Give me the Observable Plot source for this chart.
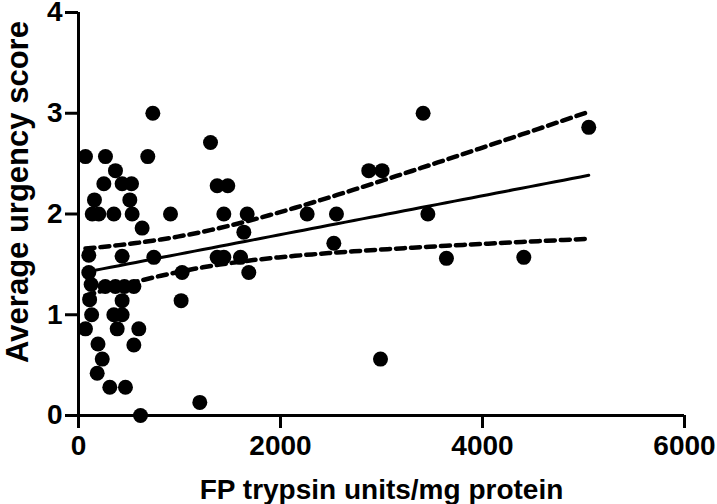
<!DOCTYPE html>
<html><head><meta charset="utf-8">
<script src="https://cdn.jsdelivr.net/npm/d3@7"></script>
<script src="https://cdn.jsdelivr.net/npm/@observablehq/plot@0.6"></script>
<style>
body{margin:0;background:#fff}
svg{font-family:"Liberation Sans",Arial,sans-serif;overflow:visible}
</style>
</head><body><div id="chart"></div>
<script>
// FP trypsin units/mg protein (x) and average urgency score (y)
const trypsin = [69, 69, 136, 158, 102, 102, 125, 110, 130,
  201, 251, 193, 235, 185, 267, 265,
  310, 366, 350, 365, 350, 383,
  432, 432, 455, 432, 432, 465,
  525, 508, 531, 548, 548,
  630, 597, 614,
  686, 736, 746, 911, 1026, 1016, 1201,
  1307, 1373, 1478, 1439, 1373, 1439, 1604, 1670, 1637, 1686,
  2264, 2554, 2528, 2874, 3006, 2990, 3412, 3459, 3643, 4409, 5052];
const urgency = [2.57, 0.86, 2.0, 2.14, 1.59, 1.42, 1.30, 1.15, 1.0,
  2.0, 2.30, 0.71, 0.56, 0.42, 2.57, 1.28,
  0.28, 2.43, 2.0, 1.28, 1.0, 0.86,
  2.30, 1.58, 1.28, 1.14, 1.0, 0.28,
  2.30, 2.14, 2.0, 1.28, 0.70,
  1.86, 0.86, 0.0,
  2.57, 3.0, 1.57, 2.0, 1.42, 1.14, 0.13,
  2.71, 2.28, 2.28, 2.0, 1.57, 1.57, 1.57, 2.0, 1.82, 1.42,
  2.0, 2.0, 1.71, 2.43, 2.43, 0.56, 3.0, 2.0, 1.56, 1.57, 2.86];
const xTicks = [0, 2000, 4000, 6000];
const yTicks = [0, 1, 2, 3, 4];
const xLabel = "FP trypsin units/mg protein";
const yLabel = "Average urgency score";

// linear regression with 95% confidence band, computed from the data
const n = trypsin.length;
const mx = d3.mean(trypsin), my = d3.mean(urgency);
const sxx = d3.sum(trypsin, x => (x - mx) ** 2);
const sxy = d3.sum(trypsin.map((x, i) => (x - mx) * (urgency[i] - my)));
const b = sxy / sxx, a = my - b * mx;
const s = Math.sqrt(d3.sum(trypsin.map((x, i) => (urgency[i] - a - b * x) ** 2)) / (n - 2));
const tCrit = 1.999;
const [x0, x1] = d3.extent(trypsin);
const fit = d3.range(0, 61).map(i => {
  const x = x0 + (x1 - x0) * i / 60;
  const se = s * Math.sqrt(1 / n + (x - mx) ** 2 / sxx);
  const y = a + b * x;
  return {x, y, lo: y - tCrit * se, hi: y + tCrit * se};
});
const points = trypsin.map((x, i) => ({x, y: urgency[i]}));

const font = {fontSize: 28, fontWeight: "bold", fill: "black"};
const chart = Plot.plot({
  width: 717, height: 504,
  marginLeft: 78, marginRight: 33, marginTop: 12, marginBottom: 89,
  x: {domain: [0, 6000]},
  y: {domain: [0, 4]},
  marks: [
    Plot.dot(points, {x: "x", y: "y", r: 7.5, fill: "black", stroke: "none"}),
    Plot.line(fit, {x: "x", y: "y", stroke: "black", strokeWidth: 3}),
    Plot.line(fit, {x: "x", y: "hi", stroke: "black", strokeWidth: 4.5, strokeDasharray: "9,6", strokeLinecap: "round"}),
    Plot.line(fit, {x: "x", y: "lo", stroke: "black", strokeWidth: 4.5, strokeDasharray: "9,6", strokeLinecap: "round"}),
    Plot.ruleY([0], {stroke: "black", strokeWidth: 3}),
    Plot.ruleX([0], {stroke: "black", strokeWidth: 3}),
    Plot.axisX({ticks: xTicks, tickSize: 13, tickPadding: 7, strokeWidth: 3, stroke: "black",
      tickFormat: d3.format("d"), label: null, ...font}),
    Plot.axisY({ticks: yTicks, tickSize: 13, tickPadding: 3, strokeWidth: 3, stroke: "black",
      tickFormat: d3.format("d"), label: null, ...font}),
    Plot.text([xLabel], {frameAnchor: "bottom", lineAnchor: "bottom", dy: 83, ...font}),
    Plot.text([yLabel], {frameAnchor: "left", textAnchor: "middle", lineAnchor: "middle", rotate: -90, dx: -60, dy: -22, ...font, fontSize: 31})
  ]
});
document.getElementById("chart").append(chart);
</script>
</body></html>
